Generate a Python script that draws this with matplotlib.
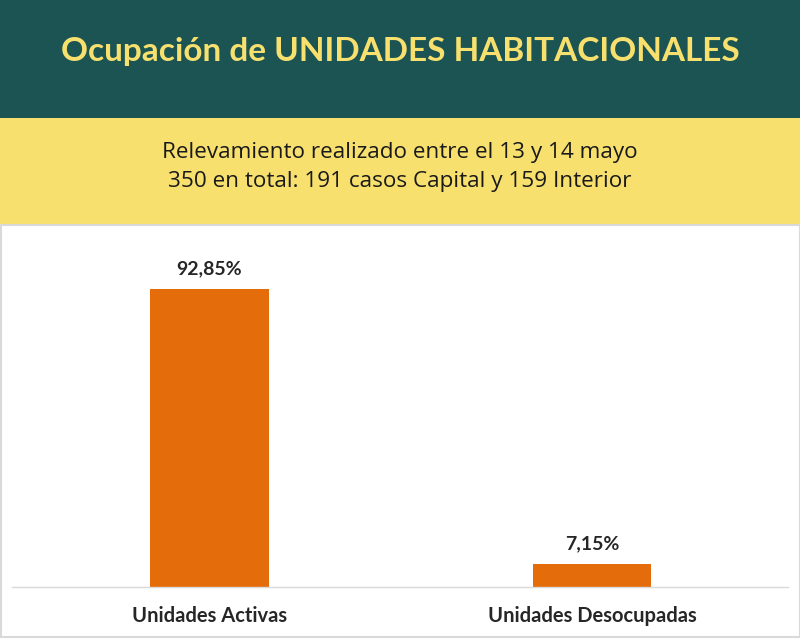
import matplotlib.pyplot as plt
from matplotlib.patches import Rectangle

categorias = ['Unidades Activas', 'Unidades Desocupadas']
porcentajes = [92.85, 7.15]
etiquetas = ['92,85%', '7,15%']

titulo = 'Ocupación de UNIDADES HABITACIONALES'
subtitulo = 'Relevamiento realizado entre el 13 y 14 mayo\n350 en total: 191 casos Capital y 159 Interior'

verde = '#1b5452'
amarillo = '#f7e06e'
naranja = '#e46c0a'

fig = plt.figure(figsize=(8, 6.4), dpi=100)
W, H = 800, 640

def fy(y):
    return 1 - y / H

# bandas de fondo
fig.patches.append(Rectangle((0, fy(118)), 1, 118 / H, transform=fig.transFigure,
                             facecolor=verde, edgecolor='none', zorder=0))
fig.patches.append(Rectangle((0, fy(225)), 1, 107 / H, transform=fig.transFigure,
                             facecolor=amarillo, edgecolor='none', zorder=0))
fig.patches.append(Rectangle((0.5 / W, fy(637)), 1 - 1 / W, 412 / H, transform=fig.transFigure,
                             facecolor='white', edgecolor='#d9d9d9', linewidth=1.5, zorder=0))

fig.text(0.5, fy(52), titulo, ha='center', va='center', color=amarillo,
         fontsize=24, fontweight='bold', family='Lato')
fig.text(0.5, fy(167), subtitulo, ha='center', va='center', color='#1a1a1a',
         fontsize=16.2, family='Open Sans', linespacing=1.45)

ax = fig.add_axes([12 / W, 53 / H, 776 / W, 321 / H])
ax.set_zorder(2)
ax.set_facecolor('none')
x = range(len(categorias))
ax.bar(x, porcentajes, width=0.31, color=naranja, zorder=2)
ax.set_xlim(-0.516, 1.512)
ax.set_ylim(0, 100)
for i, (v, t) in enumerate(zip(porcentajes, etiquetas)):
    ax.text(i, v + 3.8, t, ha='center', va='bottom', fontsize=14,
            fontweight='bold', color='#262626', family='Lato')
ax.set_xticks(list(x))
ax.set_xticklabels(categorias, fontsize=14.5, fontweight='bold', color='#262626', family='Lato')
ax.tick_params(axis='x', length=0, pad=14)
ax.set_yticks([])
for s in ['top', 'right', 'left']:
    ax.spines[s].set_visible(False)
ax.spines['bottom'].set_color('#d9d9d9')
ax.spines['bottom'].set_linewidth(1)

fig.savefig('out.png', dpi=100)
